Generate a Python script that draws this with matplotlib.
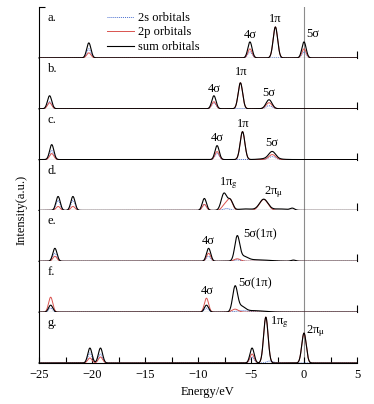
import numpy as np
import matplotlib
matplotlib.use("Agg")
import matplotlib.pyplot as plt

plt.rcParams['font.family'] = ['Liberation Serif', 'DejaVu Serif']
plt.rcParams['mathtext.fontset'] = 'stix'
plt.rcParams['font.size'] = 9

# peaks as (centre eV, height, width eV); heights in panel units (panel = 51)
A_2S = [(-20.3, 9, 0.2), (-5.1, 6, 0.2), (0.0, 6, 0.2)]
A_2P = [(-20.3, 5, 0.2), (-5.1, 9, 0.2), (-2.7, 31, 0.21), (0.0, 9, 0.2)]
A_SUM = [(-20.3, 15, 0.2), (-5.1, 16, 0.2), (-2.7, 31, 0.21), (0.0, 16, 0.2)]

B_2S = [(-24.0, 7, 0.2), (-8.5, 6, 0.2), (-3.3, 3, 0.28)]
B_2P = [(-24.0, 6, 0.2), (-8.5, 7, 0.2), (-6.0, 26, 0.21), (-3.3, 6, 0.28)]
B_SUM = [(-24.0, 13, 0.2), (-8.5, 13, 0.2), (-6.0, 26, 0.21), (-3.3, 9, 0.28)]

C_2S = [(-23.8, 9, 0.2), (-8.2, 6, 0.2), (-3.0, 3, 0.32)]
C_2P = [(-23.8, 6, 0.2), (-8.2, 8, 0.2), (-5.8, 28, 0.22), (-3.0, 5, 0.32)]
C_SUM = [(-23.8, 15, 0.2), (-8.2, 14, 0.2), (-5.8, 28, 0.22), (-3.0, 7, 0.32),
         (-3.2, 1.2, 0.8)]

D_2S = [(-23.2, 10, 0.2), (-21.8, 10, 0.2), (-9.4, 6, 0.2), (-7.3, 2, 0.3)]
D_2P = [(-23.2, 4, 0.2), (-21.8, 4, 0.2), (-9.4, 6, 0.2), (-7.0, 11, 0.26),
        (-7.5, 5, 0.26), (-3.8, 11, 0.4)]
D_SUM = [(-23.2, 14, 0.2), (-21.8, 14, 0.2), (-9.4, 12, 0.2), (-7.55, 17, 0.26),
         (-6.95, 10, 0.24), (-5.5, 1.5, 0.8), (-3.8, 11, 0.4), (-2.3, 1.5, 0.7),
         (-1.1, 2, 0.22)]

E_2S = [(-23.5, 8, 0.2), (-9.0, 5, 0.2), (-6.3, 1.5, 0.3)]
E_2P = [(-23.5, 5, 0.2), (-9.0, 8, 0.2), (-6.3, 2.5, 0.3)]
E_SUM = [(-23.5, 13, 0.2), (-9.0, 13, 0.2), (-6.3, 24, 0.23), (-5.7, 4, 0.4),
         (-4.5, 1.5, 1.2), (-1.0, 1.2, 0.22)]

F_2S = [(-23.9, 4, 0.2), (-9.2, 4, 0.2), (-5.8, 1.5, 0.6)]
F_2P = [(-23.9, 15, 0.2), (-9.2, 14, 0.2), (-6.5, 3, 0.3)]
F_SUM = [(-23.9, 7, 0.2), (-9.2, 7, 0.2), (-6.5, 25, 0.23), (-5.9, 5, 0.35),
         (-4.8, 1.5, 1.0)]

G_2S = [(-20.2, 10, 0.2), (-19.2, 9, 0.2), (-4.9, 6, 0.2), (-3.2, 2, 0.3)]
G_2P = [(-20.2, 5, 0.2), (-19.2, 6, 0.2), (-4.9, 9, 0.2), (-3.6, 46, 0.21),
        (0.0, 30, 0.21)]
G_SUM = [(-20.2, 15, 0.2), (-19.2, 15, 0.2), (-4.9, 15, 0.2), (-3.6, 46, 0.21),
         (0.0, 30, 0.21)]

PANELS = [("a.", A_2S, A_2P, A_SUM), ("b.", B_2S, B_2P, B_SUM),
          ("c.", C_2S, C_2P, C_SUM), ("d.", D_2S, D_2P, D_SUM),
          ("e.", E_2S, E_2P, E_SUM), ("f.", F_2S, F_2P, F_SUM),
          ("g.", G_2S, G_2P, G_SUM)]

# peak labels: (text, x, y, ha)
LABELS = [
    [("4σ", -5.1, 23, "center"), ("1π", -2.7, 39, "center"), ("5σ", 0.85, 24, "center")],
    [("4σ", -8.5, 20, "center"), ("1π", -5.95, 37, "center"), ("5σ", -3.3, 16, "center")],
    [("4σ", -8.2, 22, "center"), ("1π", -5.75, 36, "center"), ("5σ", -3.0, 17, "center")],
    [(r"1π$_\mathrm{g}$", -7.1, 27, "center"), (r"2π$_\mathrm{\mu}$", -2.9, 18, "center")],
    [("4σ", -9.05, 20, "center"), ("5σ(1π)", -5.75, 27, "left")],
    [("4σ", -9.15, 21, "center"), ("5σ(1π)", -6.2, 29, "left")],
    [(r"1π$_\mathrm{g}$", -3.2, 41, "left"), (r"2π$_\mathrm{\mu}$", 0.2, 32, "left")],
]

XTICKS = [-25, -20, -15, -10, -5, 0, 5]

energy = np.linspace(-25, 5, 3001)


def dos(peaks):
    y = np.zeros_like(energy)
    for c, h, w in peaks:
        y += h * np.exp(-0.5 * ((energy - c) / w) ** 2)
    return y


fig = plt.figure(figsize=(3.74, 4.04), dpi=100)
left, right, top, bottom = 39 / 374, 357 / 374, 1 - 7 / 404, 1 - 363 / 404
h = (top - bottom) / 7

axes = []
for i, (name, s2, p2, tot) in enumerate(PANELS):
    ax = fig.add_axes([left, top - (i + 1) * h, right - left, h])
    axes.append(ax)
    ax.plot(energy, dos(s2), color='#4a6fd0', ls=(0, (1, 1)), lw=0.7, label='2s orbitals')
    ax.plot(energy, dos(p2), color='#d9534f', lw=0.7, label='2p orbitals')
    ax.plot(energy, dos(tot), color='black', lw=0.8, label='sum orbitals', clip_on=False)
    ax.axvline(0, color='#8c8c8c', lw=0.8, zorder=0)
    ax.set_xlim(-25, 5)
    ax.set_ylim(0, 51)
    for sp in ['top', 'right']:
        ax.spines[sp].set_visible(False)
    ax.spines['bottom'].set_linewidth(0.8)
    ax.spines['left'].set_linewidth(0.8)
    ax.text(-24.2, 40, name, ha='left', va='center')
    for txt, x, y, ha in LABELS[i]:
        ax.text(x, y, txt, ha=ha, va='center')
    if i == 0:
        ax.set_yticks([51])
        ax.tick_params(axis='y', direction='in', length=4, labelleft=False, width=0.8)
    else:
        ax.set_yticks([])
    if i < 6:
        ax.set_xticks([5])
        ax.tick_params(axis='x', direction='in', length=5, labelbottom=False, width=0.8)

axes[0].legend(loc='upper left', bbox_to_anchor=(0.19, 1.05), frameon=False,
               handlelength=2.2, handletextpad=0.3, labelspacing=0.2,
               borderpad=0.1)

ax = axes[-1]
ax.set_xticks(XTICKS)
ax.set_xticks(np.arange(-22.5, 5, 5), minor=True)
ax.set_xticklabels([str(t).replace('-', '\u2212') for t in XTICKS])
ax.tick_params(axis='x', which='both', direction='in', length=4, width=0.8, pad=4)

fig.text(22 / 374, 1 - 210 / 404, "Intensity(a.u.)", rotation=90,
         ha='center', va='center')
fig.text(208 / 374, 1 - 392 / 404, "Energy/eV", ha='center', va='center')

fig.savefig("out.png", dpi=100)
